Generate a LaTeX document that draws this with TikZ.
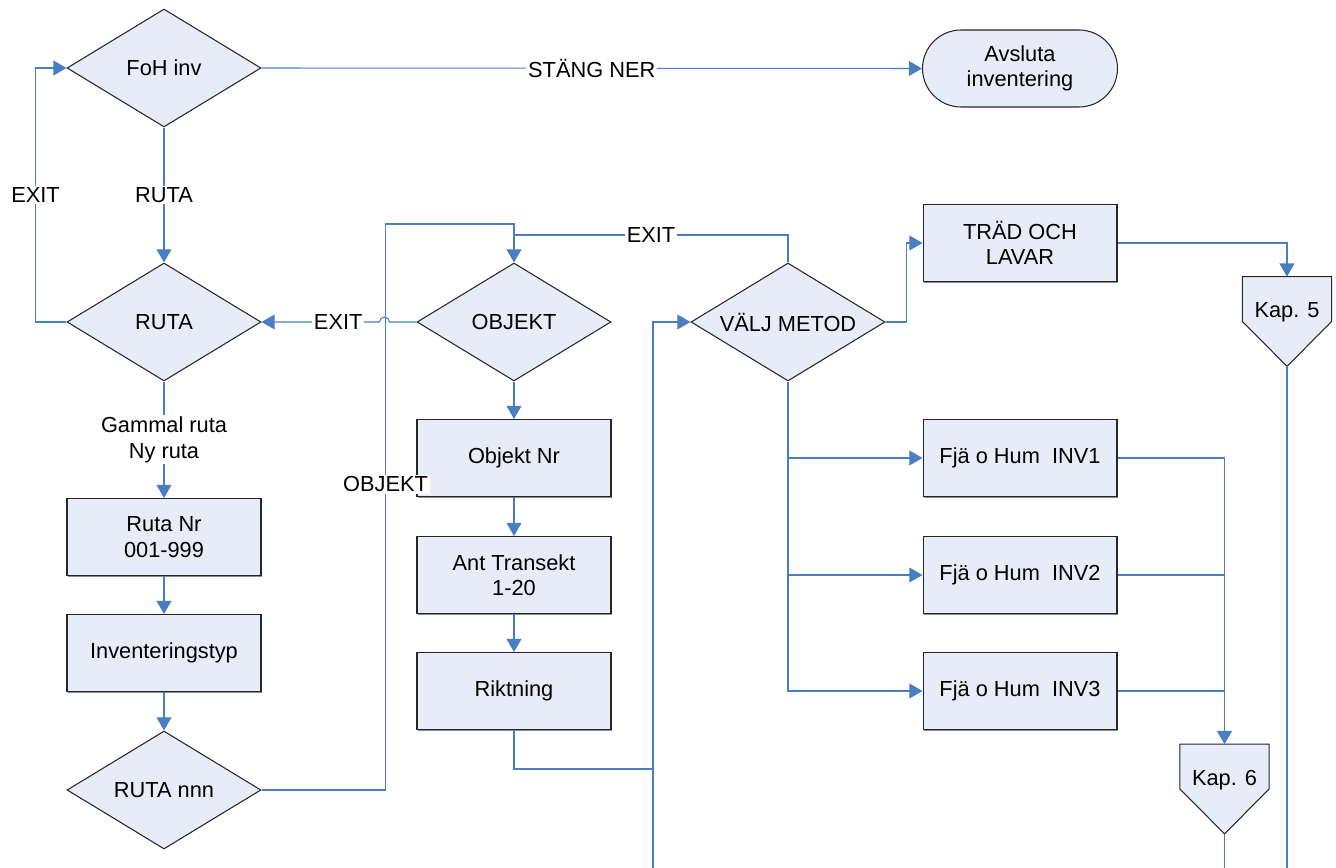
\documentclass[tikz,border=0pt]{standalone}
\usepackage{fontspec}
\setmainfont{Liberation Sans}
\usetikzlibrary{shapes.geometric,shapes.misc,arrows.meta,shadows,backgrounds}
\definecolor{flowblue}{RGB}{74,126,196}
\definecolor{boxfill}{RGB}{230,237,248}
\begin{document}
\begin{tikzpicture}[x=0.02cm, y=-0.02cm,
  every node/.style={font=\fontsize{12.4}{14.5}\selectfont},
  box/.style={draw=black!85, fill=boxfill, line width=0.6pt, minimum width=3.88cm, minimum height=1.54cm, inner sep=0pt, align=center, drop shadow={shadow xshift=0.7pt, shadow yshift=-0.7pt, fill=black!45, opacity=1}},
  decision/.style={diamond, shape aspect=1.65, draw=black!85, fill=boxfill, line width=0.6pt, minimum width=3.88cm, minimum height=2.36cm, inner sep=0pt},
  term/.style={rounded rectangle, draw=black!85, fill=boxfill, line width=0.6pt, minimum width=3.9cm, minimum height=1.54cm, inner sep=0pt, align=center},
  kap/.style={minimum width=1.77cm, minimum height=1.78cm, inner sep=0pt, text height=9pt, text depth=13pt},
  kapshape/.style={draw=black!85, fill=boxfill, line width=0.6pt},
  line/.style={flowblue, line width=0.6pt},
  arr/.style={line, -{Triangle[length=7.5pt,width=8.5pt]}},
  lbl/.style={fill=white, text=black, inner sep=1pt}]
\useasboundingbox (0,0) rectangle (1336,868);

\node[decision] (foh) at (164,68) {FoH inv};
\node[term] (avsluta) at (1020,68.5) {Avsluta\\inventering};
\node[decision] (ruta) at (164,322) {RUTA};
\node[box] (rutanr) at (164,537) {Ruta Nr\\001-999};
\node[box] (invtyp) at (164,653) {Inventeringstyp};
\node[decision] (nnn) at (164,790) {RUTA nnn};
\node[decision] (objekt) at (514,322) {OBJEKT};
\node[box] (objnr) at (514,458) {Objekt Nr};
\node[box] (transekt) at (514,575) {Ant Transekt\\1-20};
\node[box] (riktning) at (514,691) {Riktning};
\node[decision] (metod) at (788,322) {VÄLJ METOD};
\node[box] (trad) at (1020,243) {TRÄD OCH\\LAVAR};
\node[box] (inv1) at (1020,458) {Fjä o Hum\ \ INV1};
\node[box] (inv2) at (1020,575) {Fjä o Hum\ \ INV2};
\node[box] (inv3) at (1020,691) {Fjä o Hum\ \ INV3};
\node[kap] (kap5) at (1287,321.5) {Kap. 5};
\node[kap] (kap6) at (1224.5,789) {Kap. 6};
\begin{scope}[on background layer]
\draw[kapshape] (kap5.north west) -- (kap5.north east) -- (kap5.east) -- (kap5.south) -- (kap5.west) -- cycle;
\draw[kapshape] (kap6.north west) -- (kap6.north east) -- (kap6.east) -- (kap6.south) -- (kap6.west) -- cycle;
\end{scope}

\coordinate (exitjoin) at (514,235);
\coordinate (bus) at (653,868);
\coordinate (riktjoin) at (653,769);
\coordinate (kap5end) at (1287,868);
\coordinate (kap6end) at (1224.5,868);

\draw[arr] (foh.east) -- node[lbl]{STÄNG NER} (avsluta.west);
\draw[arr] (foh) -- node[lbl]{RUTA} (ruta);
\draw[arr] (ruta.west) -- ++(-31,0) |- node[lbl,pos=0.25]{EXIT} (foh.west);
\draw[arr] (ruta) -- node[lbl,align=center]{Gammal ruta\\Ny ruta} (rutanr);
\draw[arr] (rutanr) -- (invtyp);
\draw[arr] (invtyp) -- (nnn);
\draw[arr] (nnn.east) -- ++(124,0) -- node[lbl,pos=0.54]{OBJEKT} ++(0,-566) -| (objekt.north);
\draw[line] (metod.north) |- node[lbl,pos=0.75]{EXIT} (exitjoin);
\draw[arr] (objekt.west) -- ++(-27,0) arc[start angle=0, end angle=-180, radius=5] -- node[lbl,pos=0.35]{EXIT} (ruta.east);
\draw[arr] (objekt) -- (objnr);
\draw[arr] (objnr) -- (transekt);
\draw[arr] (transekt) -- (riktning);
\draw[line] (riktning.south) |- (riktjoin);
\draw[arr] (bus) |- (metod.west);
\draw[arr] (metod.east) -- ++(21,0) |- (trad.west);
\draw[arr] (trad.east) -| (kap5.north);
\draw[line] (kap5.south) -- (kap5end);
\draw[arr] (metod.south) |- (inv3.west);
\draw[arr] (metod.south |- inv1.west) -- (inv1.west);
\draw[arr] (metod.south |- inv2.west) -- (inv2.west);
\draw[arr] (inv1.east) -| (kap6.north);
\draw[line] (inv2.east) -- (kap6.north |- inv2.east);
\draw[line] (inv3.east) -- (kap6.north |- inv3.east);
\draw[line] (kap6.south) -- (kap6end);
\end{tikzpicture}
\end{document}
